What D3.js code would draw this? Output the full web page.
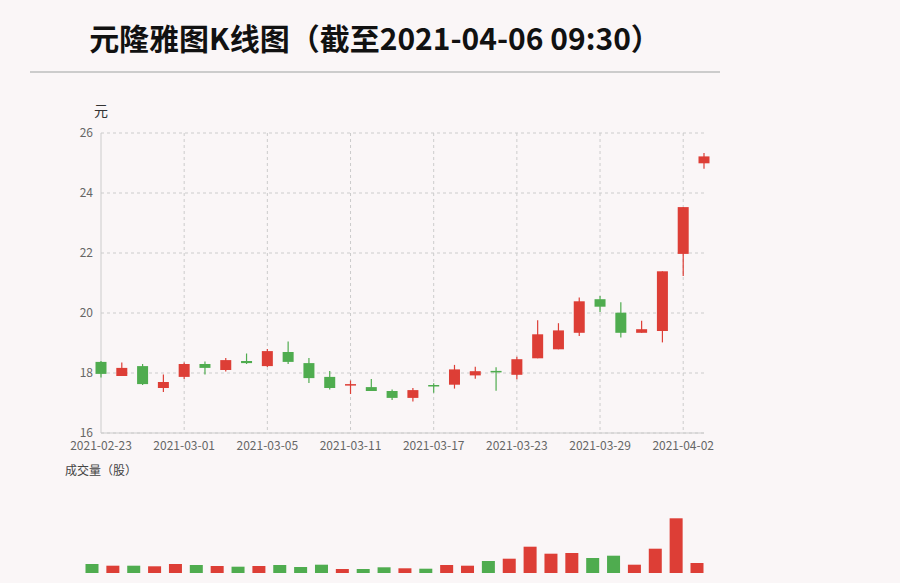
<!DOCTYPE html>
<html><head><meta charset="utf-8">
<script src="https://cdn.jsdelivr.net/npm/d3@7"></script>
<style>body{margin:0;background:#faf6f7;}svg{display:block;font-family:"Noto Sans CJK SC","Noto Sans",sans-serif;}</style>
</head><body><svg id="c" width="900" height="583"></svg>
<script>
const dates=["2021-02-23","2021-02-24","2021-02-25","2021-02-26","2021-03-01","2021-03-02","2021-03-03","2021-03-04","2021-03-05","2021-03-08","2021-03-09","2021-03-10","2021-03-11","2021-03-12","2021-03-15","2021-03-16","2021-03-17","2021-03-18","2021-03-19","2021-03-22","2021-03-23","2021-03-24","2021-03-25","2021-03-26","2021-03-29","2021-03-30","2021-03-31","2021-04-01","2021-04-02","2021-04-06"];
const open =[18.37,17.90,18.23,17.50,17.87,18.30,18.10,18.40,18.23,18.70,18.33,17.87,17.60,17.53,17.40,17.17,17.60,17.61,17.92,18.07,17.94,18.49,18.79,19.34,20.46,20.01,19.34,19.40,21.97,24.99];
const close=[17.97,18.17,17.63,17.70,18.30,18.17,18.43,18.33,18.73,18.37,17.83,17.50,17.63,17.40,17.17,17.43,17.58,18.12,18.06,18.05,18.46,19.29,19.42,20.39,20.21,19.34,19.46,21.39,23.53,25.22];
const high =[18.40,18.35,18.30,17.95,18.35,18.38,18.50,18.65,18.80,19.05,18.50,18.07,17.75,17.80,17.45,17.50,17.66,18.27,18.21,18.19,18.54,19.76,19.66,20.52,20.57,20.36,19.74,21.39,23.53,25.33];
const low  =[17.85,17.90,17.60,17.37,17.80,17.95,18.05,18.30,18.20,18.30,17.67,17.45,17.30,17.40,17.10,17.05,17.34,17.48,17.81,17.41,17.79,18.49,18.79,19.23,20.03,19.18,19.34,19.02,21.23,24.81];
const volume=[9,7.3,7.3,6.7,9,8,7,6.3,7,8,6,8.3,4,4,5.7,4.7,4.3,8,7.3,12,14.3,26.3,19.3,20,15,17.3,8.3,24.3,54.7,10];
const yTicks=[16,18,20,22,24,26];
const xTickIdx=[0,4,8,12,16,20,24,28];
const UP="#dd3e36",DOWN="#4fac4f";

const svg=d3.select("#c");
svg.append("text").attr("x",375).attr("y",50).attr("text-anchor","middle").attr("font-size",30).attr("font-weight","bold").attr("fill","#111").text("元隆雅图K线图（截至2021-04-06 09:30）");
svg.append("line").attr("x1",30).attr("x2",720).attr("y1",72).attr("y2",72).attr("stroke","#ccc").attr("stroke-width",2);

const x=d3.scaleLinear().domain([0,dates.length-1]).range([101,704]);
const y=d3.scaleLinear().domain([16,26]).range([433,133]);
const g=svg.append("g");
yTicks.forEach(t=>{
  g.append("line").attr("x1",101).attr("x2",704).attr("y1",y(t)).attr("y2",y(t)).attr("stroke","#ccc").attr("stroke-dasharray","3,3");
  g.append("text").attr("x",93).attr("y",y(t)+4).attr("text-anchor","end").attr("font-size",12).attr("fill","#666").text(t);
});
xTickIdx.forEach(i=>{
  if(i>0) g.append("line").attr("x1",x(i)).attr("x2",x(i)).attr("y1",133).attr("y2",433).attr("stroke","#ccc").attr("stroke-dasharray","3,3");
  g.append("text").attr("x",x(i)).attr("y",450).attr("text-anchor","middle").attr("font-size",12).attr("fill","#666").text(dates[i]);
});
g.append("line").attr("x1",101).attr("x2",101).attr("y1",133).attr("y2",433).attr("stroke","#ccc");
g.append("line").attr("x1",101).attr("x2",704).attr("y1",433).attr("y2",433).attr("stroke","#ccc");
svg.append("text").attr("x",101).attr("y",116).attr("text-anchor","middle").attr("font-size",14).attr("fill","#333").text("元");

dates.forEach((d,i)=>{
  const c=close[i]>=open[i]?UP:DOWN;
  g.append("line").attr("x1",x(i)).attr("x2",x(i)).attr("y1",y(high[i])).attr("y2",y(low[i])).attr("stroke",c).attr("stroke-width",1.2);
  const t=y(Math.max(open[i],close[i])),b=y(Math.min(open[i],close[i]));
  g.append("rect").attr("x",x(i)-5.5).attr("width",11).attr("y",t).attr("height",Math.max(1.5,b-t)).attr("fill",c);
});

svg.append("text").attr("x",65).attr("y",475).attr("font-size",12).attr("fill","#444").text("成交量（股）");
const xv=d3.scaleLinear().domain([0,dates.length-1]).range([92,697]);
const yv=d3.scaleLinear().domain([0,55]).range([573,518]);
dates.forEach((d,i)=>{
  const c=close[i]>=open[i]?UP:DOWN;
  svg.append("rect").attr("x",xv(i)-6.5).attr("width",13).attr("y",yv(volume[i])).attr("height",573-yv(volume[i])).attr("fill",c);
});
</script></body></html>
